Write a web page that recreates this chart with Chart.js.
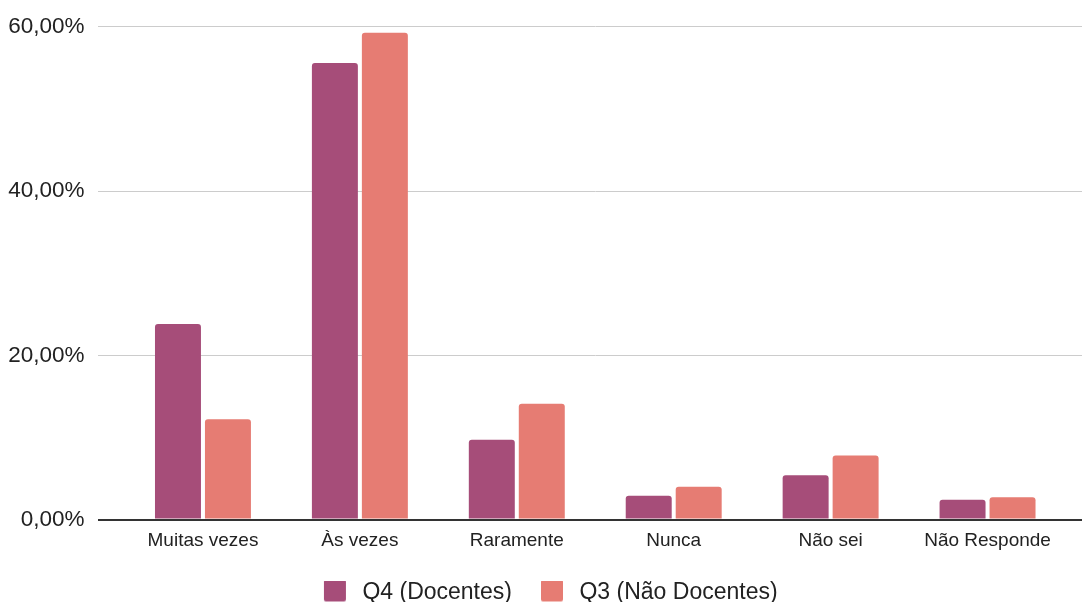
<!DOCTYPE html>
<html lang="pt">
<head>
<meta charset="utf-8">
<title>Frequência de respostas</title>
<script src="https://cdn.jsdelivr.net/npm/chart.js@4/dist/chart.umd.min.js"></script>
<style>
  html, body { margin: 0; padding: 0; background: #ffffff; }
  #wrap { position: relative; width: 1082px; height: 602px; }
</style>
</head>
<body>
<div id="wrap"><canvas id="chart"></canvas></div>
<script>
// Response categories and the share (%) of each group per category
const categories = ['Muitas vezes', 'Às vezes', 'Raramente', 'Nunca', 'Não sei', 'Não Responde'];
const docentes = [23.8, 55.6, 9.7, 2.9, 5.4, 2.4];
const naoDocentes = [12.2, 59.3, 14.1, 4.0, 7.8, 2.7];
const seriesNames = ['Q4 (Docentes)', 'Q3 (Não Docentes)'];
const seriesColors = ['#a64d79', '#e67c73'];
const yMin = 0;
const yMax = 60;
const yStep = 20;

Chart.defaults.font.family = "'Liberation Sans', Arial, sans-serif";
Chart.defaults.color = '#222222';

const GRID = '#cccccc';
const AXIS = '#333333';
const gridColor = ctx => (ctx.tick && ctx.tick.value === 0 ? AXIS : GRID);
const gridWidth = ctx => (ctx.tick && ctx.tick.value === 0 ? 2 : 1);

// Legend swatch: a small rounded square placed at the right end of the slot
function swatch(color) {
  const c = document.createElement('canvas');
  c.width = 56;
  c.height = 26;
  const g = c.getContext('2d');
  g.fillStyle = color;
  g.beginPath();
  g.roundRect(29, 0, 22, 22, 2);
  g.fill();
  return c;
}
const swatches = seriesColors.map(swatch);

const pct = v => v.toFixed(2).replace('.', ',') + '%';

new Chart(document.getElementById('chart'), {
  type: 'bar',
  data: {
    labels: categories,
    datasets: [
      { label: seriesNames[0], data: docentes, backgroundColor: seriesColors[0] },
      { label: seriesNames[1], data: naoDocentes, backgroundColor: seriesColors[1] }
    ]
  },
  options: {
    responsive: true,
    maintainAspectRatio: false,
    animation: false,
    events: [],
    categoryPercentage: 0.637,
    barPercentage: 0.92,
    datasets: {
      bar: {
        borderRadius: { topLeft: 3, topRight: 3, bottomLeft: 0, bottomRight: 0 },
        borderSkipped: 'start'
      }
    },
    layout: { padding: { top: 25.5, left: -9.5, right: 0, bottom: -12 } },
    scales: {
      x: {
        type: 'category',
        grid: { display: false, drawTicks: false },
        border: { display: false },
        ticks: { font: { size: 19 }, color: '#222222', padding: 10, maxRotation: 0, autoSkip: false },
        afterFit: s => { s.height = 61.5; }
      },
      y: {
        position: 'left',
        min: yMin,
        max: yMax,
        grid: { color: gridColor, lineWidth: gridWidth, drawTicks: true, tickLength: 26.5 },
        border: { display: false },
        ticks: { stepSize: yStep, font: { size: 22.5 }, color: '#222222', padding: 13.4, callback: v => pct(v) },
        afterFit: s => { s.width = 134; }
      },
      yEdge: {
        position: 'right',
        display: true,
        min: yMin,
        max: yMax,
        grid: { color: gridColor, lineWidth: gridWidth, drawOnChartArea: false, drawTicks: true, tickLength: 16 },
        border: { display: false },
        ticks: { stepSize: yStep, display: false }
      }
    },
    plugins: {
      tooltip: { enabled: false },
      legend: {
        position: 'bottom',
        labels: {
          usePointStyle: true,
          pointStyleWidth: 56,
          padding: 0,
          color: '#222222',
          font: { size: 23 },
          generateLabels: chart => {
            const items = Chart.defaults.plugins.legend.labels.generateLabels(chart);
            items.forEach((it, i) => { it.pointStyle = swatches[i]; });
            return items;
          }
        }
      }
    }
  }
});
</script>
</body>
</html>
